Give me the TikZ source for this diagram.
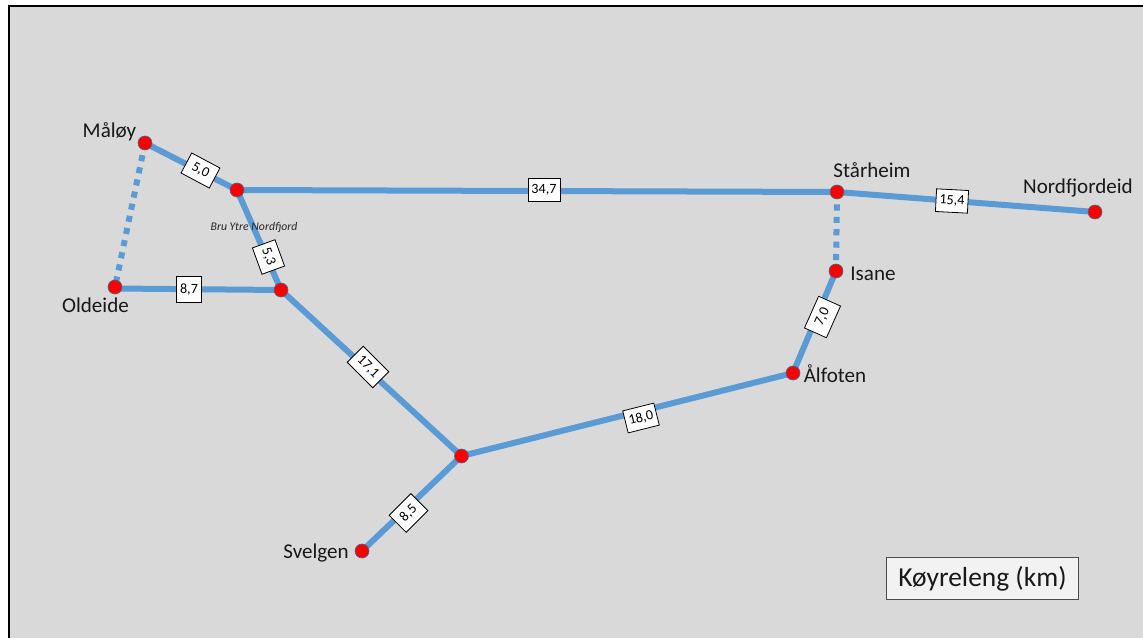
\documentclass[tikz,border=0pt]{standalone}
\usepackage{fontspec}
\setmainfont{Carlito}
\definecolor{road}{HTML}{5B9BD5}
\definecolor{panel}{HTML}{D9D9D9}
\definecolor{legend}{HTML}{F2F2F2}
\tikzset{
  x=0.75pt,y=-0.75pt,
  town/.style={circle,fill=red,draw=road!70!black,line width=0.5pt,inner sep=0pt,minimum size=10.5pt},
  roadline/.style={draw=road,line width=4.5pt},
  ferry/.style={draw=road,line width=4.5pt,dash pattern=on 4.6pt off 4.7pt},
  dist/.style={draw=black,fill=white,line width=0.6pt,inner sep=0pt,minimum height=17pt,minimum width=24pt,font=\fontsize{10.6}{11}\selectfont},
  place/.style={inner sep=0pt,font=\fontsize{15.8}{18}\selectfont,text=black!90},
}
\begin{document}
\begin{tikzpicture}
\useasboundingbox (0,0) rectangle (1143,638);
\fill[white] (0,0) rectangle (1143,638);
\fill[panel] (9,6) rectangle (1143,638);
\draw[black,line width=1.5pt] (9,638) -- (9,6) -- (1143,6);

\coordinate (pM) at (145,143);
\coordinate (pB) at (237,190);
\coordinate (pS) at (837,192);
\coordinate (pN) at (1095,212);
\coordinate (pI) at (836,271);
\coordinate (pA) at (793,373);
\coordinate (pJ) at (461.5,456);
\coordinate (pV) at (362,551);
\coordinate (pC) at (281,290);
\coordinate (pO) at (115,287);
\coordinate (pOr) at (115,288.5);

\draw[roadline] (pM) -- (pB);
\draw[roadline] (pB) -- (pS);
\draw[roadline] (pS) -- (pN);
\draw[roadline] (pI) -- (pA);
\draw[roadline] (pA) -- (pJ);
\draw[roadline] (pJ) -- (pV);
\draw[roadline] (pJ) -- (pC);
\draw[roadline] (pC) -- (pB);
\draw[roadline] (pOr) -- (pC);
\draw[ferry] (pM) -- (pO);
\draw[ferry] (pS) -- (pI);

\node[town] (M) at (pM) {};
\node[town] (B) at (pB) {};
\node[town] (S) at (pS) {};
\node[town] (N) at (pN) {};
\node[town] (I) at (pI) {};
\node[town] (A) at (pA) {};
\node[town] (J) at (pJ) {};
\node[town] (V) at (pV) {};
\node[town] (C) at (pC) {};
\node[town] (O) at (pO) {};

\node[dist,rotate=-28,minimum width=24pt] (d1) at (200.5,170.5) {5,0};
\node[dist,rotate=-70,minimum width=21pt,minimum height=18pt] (d2) at (268.5,257) {5,3};
\node[dist,minimum width=19pt,minimum height=19pt] (d3) at (189,289.5) {8,7};
\node[dist] (d4) at (544,190) {34,7};
\node[dist,rotate=-3] (d5) at (952,201) {15,4};
\node[dist,rotate=-45,minimum width=27pt] (d6) at (368,367) {17,1};
\node[dist,rotate=14] (d7) at (641,418) {18,0};
\node[dist,rotate=45,minimum width=23pt,minimum height=18pt] (d8) at (408.5,513) {8,5};
\node[dist,rotate=66,minimum width=26pt,minimum height=18pt] (d9) at (822.5,317) {7,0};

\node[place] (tM) at (109.5,131.5) {Måløy};
\node[place] (tO) at (95.5,305.5) {Oldeide};
\node[place] (tS) at (872,170.5) {Stårheim};
\node[place] (tN) at (1078,187.5) {Nordfjordeid};
\node[place] (tI) at (873,273.5) {Isane};
\node[place] (tA) at (835,373.5) {Ålfoten};
\node[place] (tV) at (316,552.5) {Svelgen};
\node[inner sep=0pt,font=\fontsize{8.8}{10}\itshape,text=black!85] (tB) at (254,227) {Bru Ytre Nordfjord};

\node[draw=black!70,fill=legend,line width=0.7pt,minimum width=144pt,minimum height=32pt,inner sep=0pt,font=\fontsize{20.6}{23}\selectfont,text=black!90] (L) at (982.5,578.5) {\raisebox{-0.5pt}{Køyreleng (km)}};
\end{tikzpicture}
\end{document}
